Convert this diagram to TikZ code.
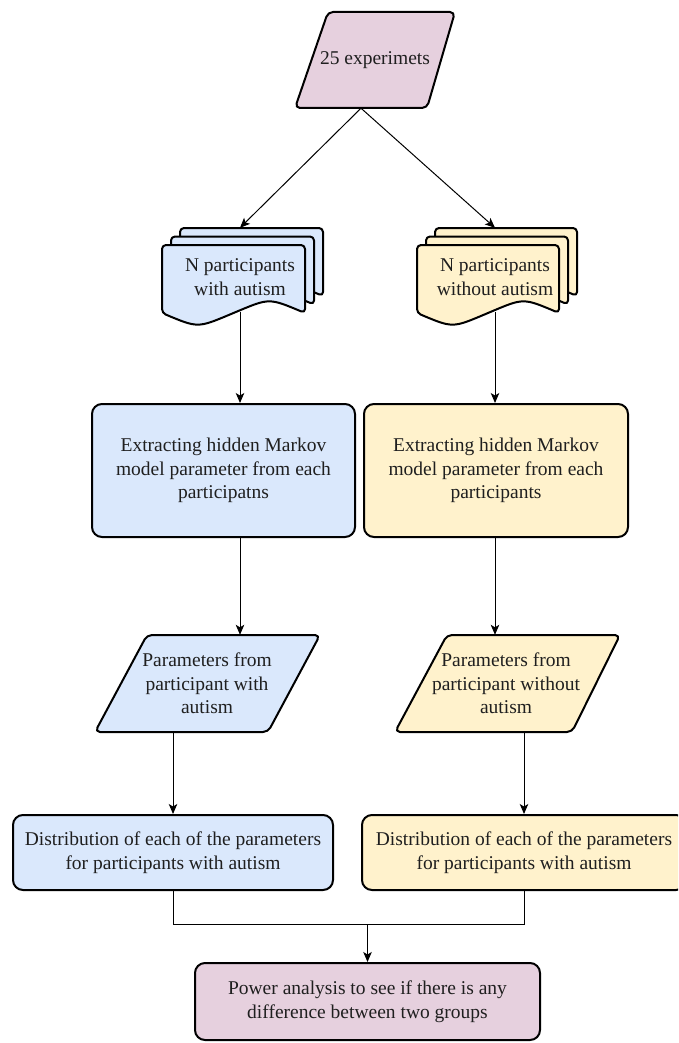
\documentclass[tikz,border=0pt]{standalone}
\usepackage{fontspec}
\setmainfont{Liberation Serif}
\newfontfamily\chartfont{Liberation Serif}
\usetikzlibrary{arrows.meta,calc}
\definecolor{pinkfill}{HTML}{E6D0DE}
\definecolor{bluefill}{HTML}{DAE8FC}
\definecolor{yellowfill}{HTML}{FFF2CC}

% one page of a stacked-document symbol: left x, top y, width, fill
\newcommand{\docpage}[4]{%
  \draw[outline, fill=#4, rounded corners=4pt]
    (#1,#2) -- (#1+#3,#2) -- (#1+#3,#2+68)
    .. controls (#1+0.75*#3,#2+53) .. (#1+0.5*#3,#2+68)
    .. controls (#1+0.25*#3,#2+83) .. (#1,#2+68) -- cycle;}

\begin{document}
\begin{tikzpicture}[x=1pt,y=-1pt,
  every node/.style={font=\chartfont\fontsize{19.5}{23.5}\selectfont, text=black!88,
                     align=center, inner sep=0pt},
  outline/.style={draw=black, line width=2pt, line join=round},
  roundbox/.style={outline, rounded corners=10pt},
  area/.style={draw=none},
  link/.style={draw=black, line width=1pt},
  conn/.style={link, -{Stealth[length=10pt,width=8.5pt,inset=2.5pt]}}]

\useasboundingbox (0,0) rectangle (678,1043);
\fill[white] (0,0) rectangle (678,1043);
\clip (0,0) rectangle (678,1043);

% start: 25 experiments
\draw[outline, fill=pinkfill, rounded corners=5pt]
  (328,12) -- (455,12) -- (427,108) -- (295,108) -- cycle;
\node[area, minimum width=160, minimum height=96] (start) at (375,60) {25 experimets};

% stacked participant documents
\foreach \k in {2,1,0} {\docpage{162+9*\k}{245-8.5*\k}{143}{bluefill}}
\foreach \k in {2,1,0} {\docpage{417+9*\k}{245-8.5*\k}{142}{yellowfill}}
\node[area, minimum width=161, minimum height=98] (docL) at (240,277) {N participants\\with autism};
\node[area, minimum width=160, minimum height=98] (docR) at (495,277) {N participants\\without autism};

% HMM parameter extraction
\node[roundbox, fill=bluefill, minimum width=263, minimum height=133] (boxL) at (223.5,470.5)
  {Extracting hidden Markov\\model parameter from each\\participatns};
\node[roundbox, fill=yellowfill, minimum width=264, minimum height=133] (boxR) at (496,470.5)
  {Extracting hidden Markov\\model parameter from each\\participants};

% parameter sets
\draw[outline, fill=bluefill, rounded corners=5pt]
  (147,635) -- (320,635) -- (268,732) -- (95,732) -- cycle;
\draw[outline, fill=yellowfill, rounded corners=5pt]
  (447,635) -- (620,635) -- (572,732) -- (395,732) -- cycle;
\node[area, minimum width=175, minimum height=97] (parL) at (207,683.5)
  {Parameters from\\participant with\\autism};
\node[area, minimum width=177, minimum height=97] (parR) at (506,683.5)
  {Parameters from\\participant without\\autism};

% distributions
\node[roundbox, fill=bluefill, minimum width=320, minimum height=75] (distL) at (173,852.5)
  {Distribution of each of the parameters\\for participants with autism};
\node[roundbox, fill=yellowfill, minimum width=324, minimum height=75] (distR) at (524,852.5)
  {Distribution of each of the parameters\\for participants with autism};

% power analysis
\node[roundbox, fill=pinkfill, minimum width=345, minimum height=77] (power) at (367.5,1001.5)
  {Power analysis to see if there is any\\difference between two groups};

% connectors
\coordinate (split) at ($(start.south)+(-14,0)$);
\draw[conn] (split) -- (docL.north);
\draw[conn] (split) -- (docR.north);
\draw[conn] ($(docL.south)+(0,-14)$) -- (docL.south |- boxL.north);
\draw[conn] ($(docR.south)+(0,-14)$) -- (docR.south |- boxR.north);
\coordinate (colL) at (docL.south);
\coordinate (colR) at (docR.south);
\draw[conn] (boxL.south -| colL) -- (parL.north -| colL);
\draw[conn] (boxR.south -| colR) -- (parR.north -| colR);
\draw[conn] (parL.south -| distL.north) -- (distL.north);
\draw[conn] (parR.south -| distR.north) -- (distR.north);
\coordinate (merge) at ($(power.north)+(0,-38)$);
\draw[link] (distL.south) |- (merge) -| (distR.south);
\draw[conn] (merge) -- (power.north);
\end{tikzpicture}
\end{document}
